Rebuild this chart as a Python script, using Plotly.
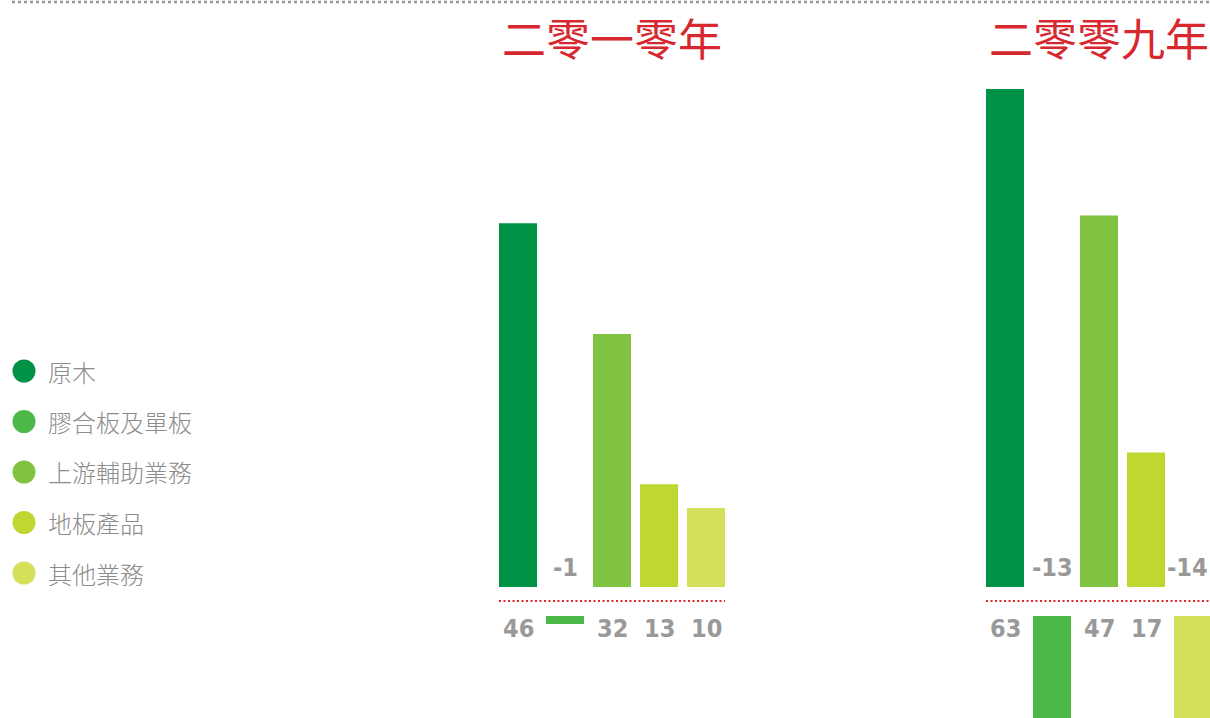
import plotly.graph_objects as go

# ---------------- data ----------------
categories = ["原木", "膠合板及單板", "上游輔助業務", "地板產品", "其他業務"]
years = ["二零一零年", "二零零九年"]
values_2010 = [46, -1, 32, 13, 10]
values_2009 = [63, -13, 47, 17, -14]
colors = ["#009245", "#4cb848", "#80c241", "#bfd730", "#d4e05a"]

# ---------------- geometry / style ----------------
W, H = 1210, 718
PX_PER_UNIT = 7.905
BASE_PX = 587
Y_TOP = BASE_PX / PX_PER_UNIT
Y_BOTTOM = -(H - BASE_PX) / PX_PER_UNIT
GAP = 29 / PX_PER_UNIT          # gap between positive baseline and negative baseline
LINE_Y = -14 / PX_PER_UNIT      # red dotted line
POS_LABEL_Y = -41 / PX_PER_UNIT
NEG_LABEL_Y = 20 / PX_PER_UNIT
PITCH = 47
BAR_W = 38 / PITCH

LABEL_FONT = dict(family="DejaVu Sans Condensed, Liberation Sans Narrow, Open Sans, sans-serif",
                  size=25, color="#999999", weight="bold")
CJK = "Noto Sans CJK TC, Noto Sans CJK SC, sans-serif"

left_start = 494.5
right_start = 981.5

fig = go.Figure()

groups = [(values_2010, "x", "y"), (values_2009, "x2", "y")]
for vals, xa, ya in groups:
    bases = [0 if v >= 0 else -GAP for v in vals]
    fig.add_trace(go.Bar(
        x=categories, y=vals, base=bases, width=BAR_W,
        marker=dict(color=colors, line=dict(width=0)),
        xaxis=xa, yaxis=ya, showlegend=False, hoverinfo="skip",
    ))

annotations = []
shapes = []

for gi, ((vals, xa, _), year) in enumerate(zip(groups, years)):
    # title
    annotations.append(dict(
        x=categories[2], xref=xa, y=1 - 37 / H, yref="paper",
        text=year, showarrow=False, xanchor="center", yanchor="middle",
        font=dict(family=CJK, size=44, color="#d7282f")))
    # value labels
    for ci, (c, v) in enumerate(zip(categories, vals)):
        ann = dict(
            x=c, xref=xa, y=POS_LABEL_Y if v >= 0 else NEG_LABEL_Y, yref="y",
            text=str(v), showarrow=False, xanchor="center", yanchor="middle",
            font=LABEL_FONT)
        if gi == len(groups) - 1 and ci == len(categories) - 1:
            # last label touches the right edge: keep it inside the page
            ann.update(x=1, xref="paper", xanchor="right")
        annotations.append(ann)
    # red dotted line
    shapes.append(dict(
        type="line", xref=xa, yref="y",
        x0=-BAR_W / 2, x1=len(categories) - 1 + BAR_W / 2, y0=LINE_Y, y1=LINE_Y,
        line=dict(color="#e0262e", width=2, dash="2px,2.5px")))

# top gray dotted line
shapes.append(dict(type="line", xref="paper", yref="paper",
                   x0=12 / W, x1=1, y0=1 - 2 / H, y1=1 - 2 / H,
                   line=dict(color="#999999", width=2.5, dash="3px,3px")))

# legend (drawn manually)
for i, (c, col) in enumerate(zip(categories, colors)):
    cy = 371 + 50.5 * i
    r = 11.5
    shapes.append(dict(type="circle", xref="paper", yref="paper",
                       x0=(24 - r) / W, x1=(24 + r) / W,
                       y0=1 - (cy + r) / H, y1=1 - (cy - r) / H,
                       fillcolor=col, line=dict(width=0)))
    annotations.append(dict(x=46 / W, xref="paper", y=1 - cy / H, yref="paper",
                            text=c, showarrow=False, xanchor="left", yanchor="middle",
                            font=dict(family=CJK, size=24, color="#8c8c8c", weight=300)))

fig.update_layout(
    width=W, height=H,
    margin=dict(l=0, r=0, t=0, b=0),
    paper_bgcolor="white", plot_bgcolor="white",
    xaxis=dict(domain=[left_start / W, (left_start + 5 * PITCH) / W],
               range=[-0.5, 4.5], visible=False, type="category", anchor="y"),
    xaxis2=dict(domain=[right_start / W, 1],
                range=[-0.5, -0.5 + (W - right_start) / PITCH], visible=False,
                type="category", anchor="y"),
    yaxis=dict(range=[Y_BOTTOM, Y_TOP], visible=False, domain=[0, 1]),
    shapes=shapes, annotations=annotations,
    showlegend=False,
)

fig.write_html("out.html", config={"displayModeBar": False},
               post_script="document.body.style.margin='0';")
